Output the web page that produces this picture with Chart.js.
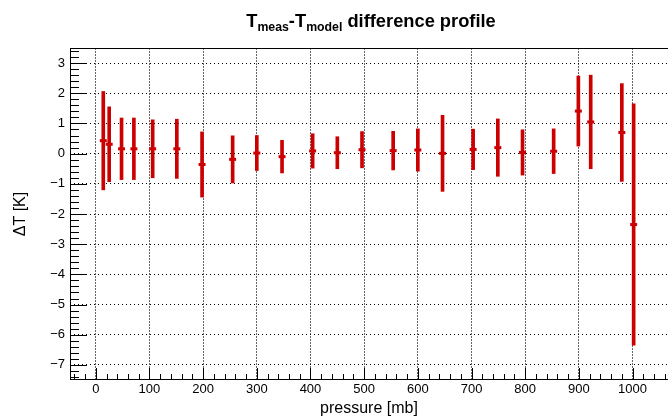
<!DOCTYPE html>
<html><head><meta charset="utf-8">
<script src="https://cdn.jsdelivr.net/npm/chart.js@4"></script>
<style>
html,body{margin:0;padding:0;background:#fff;overflow:hidden;}
#wrap{position:relative;width:668px;height:418px;}
#title{position:absolute;left:37px;width:668px;top:12px;text-align:center;font:bold 18.3px 'Liberation Sans',Arial,sans-serif;line-height:18px;color:#000;white-space:nowrap;}
#title .s{font-size:12.3px;position:relative;top:4px;}
</style></head><body>
<div id="wrap"><canvas id="c" width="668" height="418"></canvas>
<div id="title">T<span class="s">meas</span>-T<span class="s">model</span> difference profile</div></div>
<script>
const pressure  = [14, 25, 48, 71, 106, 151, 198, 255, 300, 347, 404, 450, 496, 554, 600, 646, 703, 749, 795, 853, 899, 922, 980, 1002];
const deltaT    = [0.43, 0.31, 0.16, 0.16, 0.16, 0.16, -0.36, -0.19, 0.02, -0.10, 0.09, 0.03, 0.13, 0.10, 0.12, 0.01, 0.14, 0.20, 0.04, 0.08, 1.41, 1.05, 0.70, -2.35];
const deltaTErr = [1.63, 1.24, 1.02, 1.02, 0.96, 0.98, 1.08, 0.78, 0.58, 0.54, 0.57, 0.53, 0.60, 0.64, 0.70, 1.26, 0.67, 0.95, 0.75, 0.74, 1.16, 1.55, 1.62, 4.00];
const xTicks = [0, 100, 200, 300, 400, 500, 600, 700, 800, 900, 1000];
const yTicks = [-7, -6, -5, -4, -3, -2, -1, 0, 1, 2, 3];

const RED = '#cc0000';
Chart.defaults.font.family = "'Liberation Sans', Arial, sans-serif";
Chart.defaults.color = '#000';

const frame = {
  id: 'frame',
  afterDraw(chart) {
    const {ctx, chartArea: a, scales: {x, y}} = chart;
    ctx.save();
    ctx.strokeStyle = '#000';
    ctx.lineWidth = 1;
    ctx.beginPath();
    ctx.moveTo(a.left, a.top + 0.5); ctx.lineTo(a.right, a.top + 0.5);
    ctx.moveTo(a.left + 0.5, a.top); ctx.lineTo(a.left + 0.5, a.bottom);
    ctx.moveTo(a.left, a.bottom - 0.5); ctx.lineTo(a.right, a.bottom - 0.5);
    for (let v = -40; v <= 1060; v += 20) {
      const px = Math.round(x.getPixelForValue(v)) + 0.5;
      const len = v % 100 === 0 ? 12 : 6;
      ctx.moveTo(px, a.bottom); ctx.lineTo(px, a.bottom - len);
    }
    for (let i = -74; i <= 34; i += 2) {
      const py = Math.round(y.getPixelForValue(i / 10)) + 0.5;
      const len = i % 10 === 0 ? 17 : 9;
      ctx.moveTo(a.left, py); ctx.lineTo(a.left + len, py);
    }
    ctx.stroke();
    ctx.restore();
  }
};

new Chart(document.getElementById('c'), {
  type: 'bar',
  data: {
    datasets: [
      {
        type: 'scatter',
        data: pressure.map((p, i) => ({x: p, y: deltaT[i]})),
        pointStyle: 'line',
        radius: 3.5,
        borderWidth: 3,
        borderColor: RED,
        backgroundColor: RED,
        showLine: false
      },
      {
        type: 'bar',
        data: pressure.map((p, i) => ({x: p, y: [deltaT[i] - deltaTErr[i], deltaT[i] + deltaTErr[i]]})),
        backgroundColor: RED,
        borderWidth: 0,
        barThickness: 3
      }
    ]
  },
  options: {
    responsive: false,
    animation: false,
    devicePixelRatio: 1,
    layout: {autoPadding: false, padding: {top: 48, right: 0, left: 0, bottom: 0}},
    plugins: {legend: {display: false}, tooltip: {enabled: false}, title: {display: false}},
    scales: {
      x: {
        type: 'linear',
        min: -48, max: 1066,
        offset: false,
        afterFit: s => { s.height = 38; s.paddingLeft = 0; s.paddingRight = 0; },
        afterBuildTicks: s => { s.ticks = xTicks.map(v => ({value: v})); },
        grid: {offset: false, drawTicks: false, color: '#666', lineWidth: 1},
        border: {display: false, dash: [2, 1]},
        ticks: {font: {size: 13}, padding: 2, maxRotation: 0, autoSkip: false, callback: v => String(v)},
        title: {display: true, text: 'pressure [mb]', font: {size: 16}, padding: {top: 0, bottom: 0}}
      },
      y: {
        type: 'linear',
        min: -7.5, max: 3.5,
        afterFit: s => { s.width = 70; s.paddingTop = 0; s.paddingBottom = 0; },
        afterBuildTicks: s => { s.ticks = yTicks.map(v => ({value: v})); },
        grid: {drawTicks: false, color: '#000', lineWidth: 1},
        border: {display: false, dash: [1, 3]},
        ticks: {font: {size: 13}, padding: 5, autoSkip: false, callback: v => (v < 0 ? '\u2212' + Math.abs(v) : String(v))},
        title: {display: true, text: '\u0394T [K]', font: {size: 16}, padding: {top: 11, bottom: 0}}
      }
    }
  },
  plugins: [frame]
});
</script>
</body></html>
